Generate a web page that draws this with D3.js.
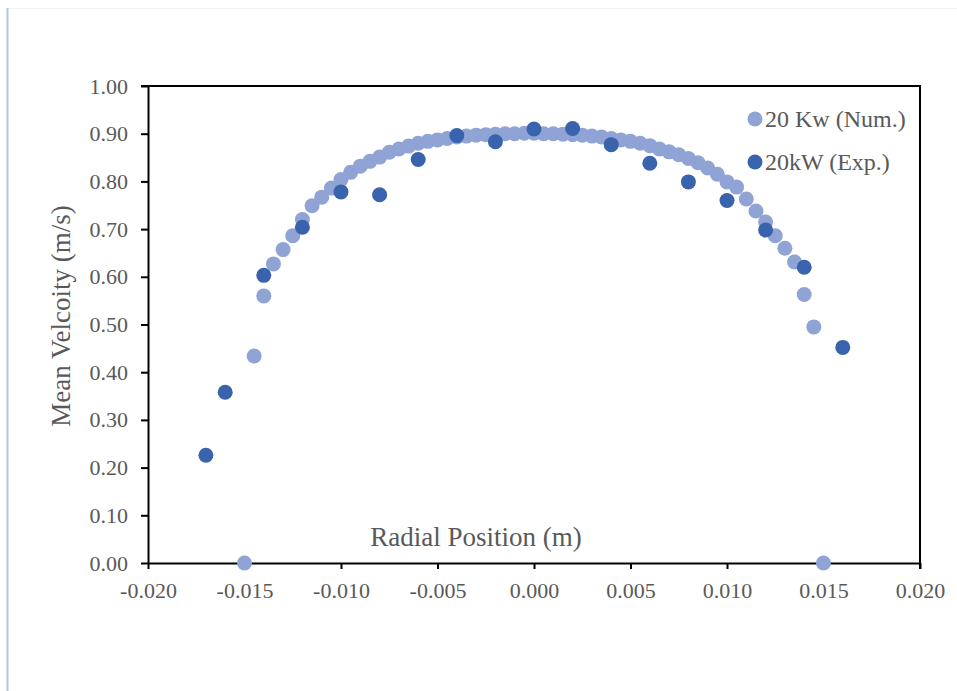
<!DOCTYPE html>
<html>
<head>
<meta charset="utf-8">
<script src="https://cdn.jsdelivr.net/npm/d3@7"></script>
<style>
  body { margin: 0; background: #fff; }
  text { font-family: "Liberation Serif", "Times New Roman", serif; fill: #595959; }
</style>
</head>
<body>
<script>
// numerical profile (20 Kw)
const numX = [-0.015, -0.0145, -0.014, -0.0135, -0.013, -0.0125, -0.012, -0.0115, -0.011, -0.0105,
  -0.010, -0.0095, -0.009, -0.0085, -0.008, -0.0075, -0.007, -0.0065, -0.006, -0.0055,
  -0.005, -0.0045, -0.004, -0.0035, -0.003, -0.0025, -0.002, -0.0015, -0.001, -0.0005,
  0.000, 0.0005, 0.001, 0.0015, 0.002, 0.0025, 0.003, 0.0035, 0.004, 0.0045,
  0.005, 0.0055, 0.006, 0.0065, 0.007, 0.0075, 0.008, 0.0085, 0.009, 0.0095,
  0.010, 0.0105, 0.011, 0.0115, 0.012, 0.0125, 0.013, 0.0135, 0.014, 0.0145, 0.015];
const numY = [0.000, 0.434, 0.560, 0.627, 0.657, 0.686, 0.720, 0.749, 0.767, 0.786,
  0.804, 0.819, 0.832, 0.842, 0.851, 0.861, 0.868, 0.874, 0.880, 0.884,
  0.887, 0.890, 0.893, 0.895, 0.897, 0.898, 0.899, 0.900, 0.900, 0.901,
  0.901, 0.900, 0.900, 0.899, 0.898, 0.897, 0.895, 0.893, 0.890, 0.887,
  0.884, 0.880, 0.875, 0.868, 0.862, 0.856, 0.848, 0.839, 0.828, 0.815,
  0.799, 0.788, 0.763, 0.738, 0.715, 0.686, 0.660, 0.631, 0.563, 0.495, 0.000];

// experimental points (20kW)
const expX = [-0.017, -0.016, -0.014, -0.012, -0.010, -0.008, -0.006, -0.004, -0.002,
  0.000, 0.002, 0.004, 0.006, 0.008, 0.010, 0.012, 0.014, 0.016];
const expY = [0.226, 0.358, 0.603, 0.704, 0.778, 0.772, 0.846, 0.896, 0.883,
  0.910, 0.911, 0.877, 0.838, 0.799, 0.760, 0.698, 0.620, 0.452];

const xTicks = [-0.020, -0.015, -0.010, -0.005, 0.000, 0.005, 0.010, 0.015, 0.020];
const yTicks = [0, 0.1, 0.2, 0.3, 0.4, 0.5, 0.6, 0.7, 0.8, 0.9, 1.0];

const seriesNames = ["20 Kw (Num.)", "20kW (Exp.)"];
const colors = ["#8fa3d5", "#3a63ad"];

const W = 957, H = 691;
const margin = { top: 86, right: 37, bottom: 128, left: 148 };
const width = W - margin.left - margin.right,
      height = H - margin.top - margin.bottom;

const svg = d3.select("body").append("svg")
  .attr("width", W)
  .attr("height", H);

// outer chart frame
svg.append("rect")
  .attr("x", 7.5).attr("y", 8.5)
  .attr("width", W).attr("height", H)
  .attr("fill", "none")
  .attr("stroke", "#eef0f5");
svg.append("line")
  .attr("x1", 7.5).attr("x2", 7.5).attr("y1", 8).attr("y2", H)
  .attr("stroke", "#b4c6e7").attr("stroke-width", 2);

const g = svg.append("g")
  .attr("transform", `translate(${margin.left},${margin.top})`);

const x = d3.scaleLinear().domain([-0.02, 0.02]).range([0, width]);
const y = d3.scaleLinear().domain([0, 1]).range([height, 0]);

// axes
const fmtX = d => d3.format(".3f")(d).replace("\u2212", "-");
const xAxis = g.append("g")
  .attr("transform", `translate(0,${height})`)
  .call(d3.axisBottom(x).tickValues(xTicks).tickFormat(fmtX).tickSizeInner(6).tickSizeOuter(0).tickPadding(13));
const yAxis = g.append("g")
  .call(d3.axisLeft(y).tickValues(yTicks).tickFormat(d3.format(".2f")).tickSizeInner(7).tickSizeOuter(0).tickPadding(13));

[xAxis, yAxis].forEach(a => {
  a.select(".domain").attr("stroke", "#000").attr("stroke-width", 2);
  a.selectAll(".tick line").attr("stroke", "#000").attr("stroke-width", 2);
  a.selectAll(".tick text")
    .attr("font-family", "Liberation Serif, Times New Roman, serif")
    .attr("font-size", 22)
    .attr("fill", "#595959");
});

// top and right border of plot box
g.append("line").attr("x1", -7).attr("x2", width + 1).attr("y1", 0).attr("y2", 0)
  .attr("stroke", "#000").attr("stroke-width", 2);
g.append("line").attr("x1", width).attr("x2", width).attr("y1", 0).attr("y2", height + 6)
  .attr("stroke", "#000").attr("stroke-width", 2);

// series
const numData = numX.map((d, i) => ({ x: d, y: numY[i] }));
const expData = expX.map((d, i) => ({ x: d, y: expY[i] }));

g.append("g").selectAll("circle")
  .data(numData)
  .join("circle")
  .attr("cx", d => x(d.x))
  .attr("cy", d => y(d.y))
  .attr("r", 7.5)
  .attr("fill", colors[0]);

g.append("g").selectAll("circle")
  .data(expData)
  .join("circle")
  .attr("cx", d => x(d.x))
  .attr("cy", d => y(d.y))
  .attr("r", 7.5)
  .attr("fill", colors[1]);

// axis titles
svg.append("text")
  .attr("x", 476).attr("y", 546)
  .attr("text-anchor", "middle")
  .attr("font-size", 27)
  .text("Radial Position (m)");

svg.append("text")
  .attr("transform", "translate(70,316) rotate(-90)")
  .attr("text-anchor", "middle")
  .attr("font-size", 27)
  .text("Mean Velcoity (m/s)");

// legend
const legend = svg.append("g");
seriesNames.forEach((name, i) => {
  const ly = 119 + i * 43;
  legend.append("circle")
    .attr("cx", 755).attr("cy", ly).attr("r", 7.5)
    .attr("fill", colors[i]);
  legend.append("text")
    .attr("x", 765).attr("y", ly + 8)
    .attr("font-size", 24)
    .text(name);
});
</script>
</body>
</html>
